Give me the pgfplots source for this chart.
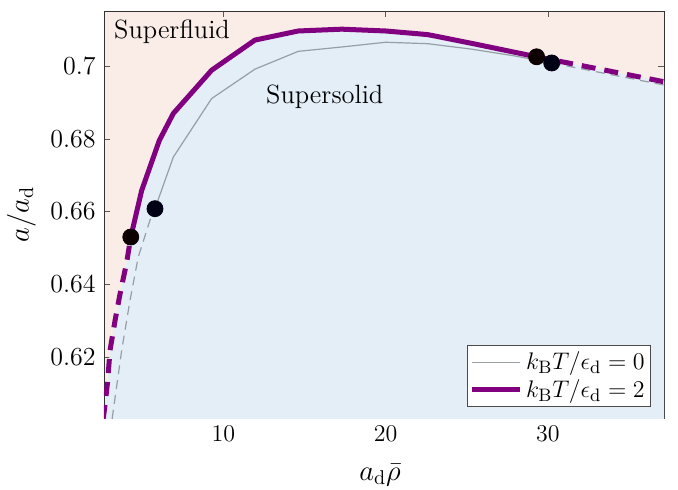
\documentclass[12pt,border=0pt]{standalone}
\usepackage{pgfplots}
\pgfplotsset{compat=1.18}
\definecolor{sfpink}{RGB}{250,236,230}
\definecolor{ssblue}{RGB}{228,238,247}
\definecolor{purp}{RGB}{128,0,128}
\definecolor{grayline}{RGB}{150,158,166}
\begin{document}
\begin{tikzpicture}
\begin{axis}[
  at={(0,0)}, anchor=south west,
  scale only axis, width=280pt, height=203.5pt,
  xmin=2.65, xmax=37.15, ymin=0.6032, ymax=0.7152,
  xtick={10,20,30}, ytick={0.62,0.64,0.66,0.68,0.7},
  yticklabels={0.62,0.64,0.66,0.68,0.7},
  tick label style={font=\fontsize{13}{15}\selectfont},
  label style={font=\fontsize{14.5}{17}\selectfont},
  tick align=inside, major tick length=3pt,
  axis line style={draw=black!80},
  tick style={draw=black!65},
  axis background/.style={fill=sfpink},
  xlabel={$a_\mathrm{d}\bar\rho$}, ylabel={$a/a_\mathrm{d}$},
  xlabel style={yshift=-3pt, xshift=-2pt}, ylabel style={yshift=-1pt},
  legend style={at={(0.977,0.027)}, anchor=south east, draw=black!70, fill=white,
    inner sep=1pt, row sep=-1pt, font=\fontsize{12.2}{14}\selectfont, legend cell align=left},
  legend image code/.code={\draw[#1] (0pt,0pt) -- (24pt,0pt);},
]
% supersolid region (below T=2 boundary)
\addplot[fill=ssblue, draw=none, forget plot] coordinates {
 (2.55,0.6010) (2.67,0.6052) (2.88,0.6135) (3.02,0.6218) (3.33,0.6300) (3.64,0.6374) (4.05,0.6461) (4.30,0.6530)
 (4.97,0.6658) (6.06,0.6796) (6.92,0.6870) (9.28,0.6989) (11.95,0.7072) (14.62,0.7097)
 (17.30,0.7102) (20.00,0.7097) (22.60,0.7087) (25.30,0.7063) (28.00,0.7038) (29.30,0.7026)
 (37.30,0.6956) (37.30,0.5990) (2.50,0.5990)
} -- cycle;
% T=0 dashed extensions
\addplot[grayline, line width=0.6pt, dash pattern=on 4.5pt off 3pt, forget plot] coordinates {
 (3.15,0.6030) (3.22,0.6052) (3.74,0.6218) (4.25,0.6355) (4.76,0.6475) (5.48,0.6576) (5.79,0.6608)
};
\addplot[grayline, line width=0.6pt, dash pattern=on 4.5pt off 3pt, forget plot] coordinates {
 (30.23,0.7009) (37.30,0.6947)
};
% T=0 solid
\addplot[grayline, line width=0.6pt] coordinates {
 (5.79,0.6608) (6.92,0.6750) (9.28,0.6911) (11.95,0.6992) (14.62,0.7041) (17.30,0.7053)
 (20.00,0.7066) (22.60,0.7062) (25.30,0.7047) (28.00,0.7028) (30.23,0.7009)
};
\addlegendentry{$k_\mathrm{B}T/\epsilon_\mathrm{d}=0$}
% T=2 dashed extensions
\addplot[purp, line width=2.5pt, dash pattern=on 7pt off 4.5pt, forget plot] coordinates {
 (2.60,0.6030) (2.67,0.6052) (2.88,0.6135) (3.02,0.6218) (3.33,0.6300) (3.64,0.6374) (4.05,0.6461) (4.30,0.6530)
};
\addplot[purp, line width=2.5pt, dash pattern=on 7pt off 4.5pt, forget plot] coordinates {
 (29.30,0.7026) (37.30,0.6956)
};
% T=2 solid
\addplot[purp, line width=2.5pt, line join=round] coordinates {
 (4.30,0.6530) (4.97,0.6658) (6.06,0.6796) (6.92,0.6870) (9.28,0.6989) (11.95,0.7072)
 (14.62,0.7097) (17.30,0.7102) (20.00,0.7097) (22.60,0.7087) (25.30,0.7063) (28.00,0.7038)
 (29.30,0.7026)
};
\addlegendentry{$k_\mathrm{B}T/\epsilon_\mathrm{d}=2$}
% end points
\addplot[only marks, mark=*, mark size=4pt, color=black!95!red, forget plot] coordinates {
 (4.30,0.6530) (29.30,0.7026)
};
\addplot[only marks, mark=*, mark size=4pt, color=black!92!blue, forget plot] coordinates {
 (5.79,0.6608) (30.23,0.7009)
};
\node[font=\fontsize{13.2}{15}\selectfont] at (axis cs:6.84,0.7094) {Superfluid};
\node[font=\fontsize{13.2}{15}\selectfont] at (axis cs:16.25,0.6917) {Supersolid};
\end{axis}
\pgfresetboundingbox
\path[use as bounding box] (-52pt,-35.5pt) rectangle (287pt,209pt);
\end{tikzpicture}
\end{document}
